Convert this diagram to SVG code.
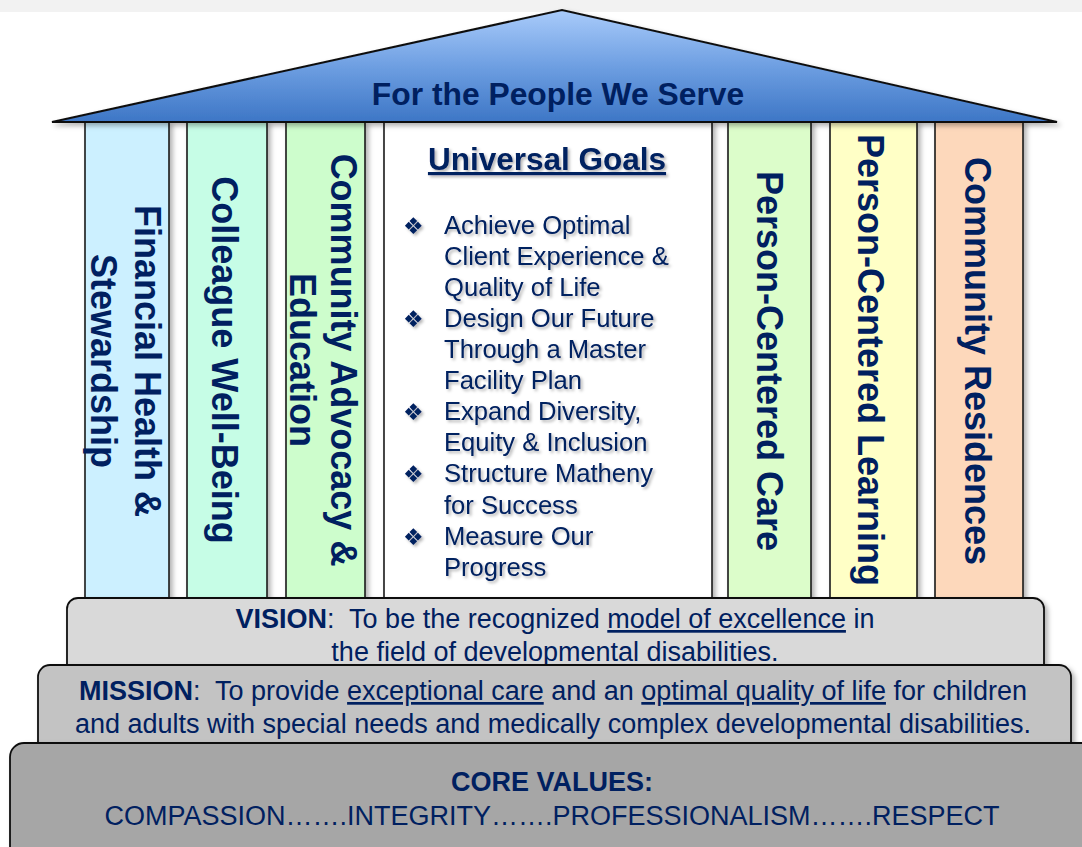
<svg xmlns="http://www.w3.org/2000/svg" width="1082" height="847" viewBox="0 0 1082 847">
<defs>
<linearGradient id="roofGrad" x1="0" y1="10" x2="0" y2="122" gradientUnits="userSpaceOnUse">
<stop offset="0" stop-color="#a9cbfa"/>
<stop offset="0.5" stop-color="#6e9fe2"/>
<stop offset="1" stop-color="#3d76c6"/>
</linearGradient>
<filter id="shadow" x="-10%" y="-10%" width="130%" height="130%">
<feDropShadow dx="3" dy="3" stdDeviation="2.5" flood-color="#000" flood-opacity="0.3"/>
</filter>
<filter id="textShadow" x="-5%" y="-20%" width="115%" height="150%">
<feDropShadow dx="2" dy="2" stdDeviation="1.5" flood-color="#000" flood-opacity="0.3"/>
</filter>
</defs>
<style>
.pillar { stroke: #1a1a1a; stroke-width: 1.6; filter: url(#shadow); }
.ptext { font-family: "Liberation Sans", Arial, sans-serif; font-weight: bold; font-size: 36px; fill: #002060; text-anchor: middle; }
.goal { font-family: "Liberation Sans", Arial, sans-serif; font-size: 25.6px; fill: #002060; }
.bullet { font-family: "DejaVu Sans", sans-serif; font-size: 23px; fill: #002060; }
.step { stroke: #111; stroke-width: 1.8; filter: url(#shadow); }
.stext { font-family: "Liberation Sans", Arial, sans-serif; font-size: 27px; fill: #002060; text-anchor: middle; white-space: pre; }
.b { font-weight: bold; }
.u { text-decoration: underline; }
</style>
<rect x="0" y="0" width="1082" height="12" fill="#f2f2f2"/>

<g id="pillar-financial">
<rect class="pillar" x="85" y="122" width="84" height="476" fill="#ccf0ff"/>
<text class="ptext" transform="translate(135,361) rotate(90)"><tspan x="0" y="0">Financial Health &amp;</tspan><tspan x="0" y="44">Stewardship</tspan></text>
</g>
<g id="pillar-colleague">
<rect class="pillar" x="187" y="122" width="80" height="476" fill="#c6fde6"/>
<text class="ptext" transform="translate(212,360) rotate(90)">Colleague Well-Being</text>
</g>
<g id="pillar-advocacy">
<rect class="pillar" x="286" y="122" width="79" height="476" fill="#cdfdcc"/>
<text class="ptext" transform="translate(331,360) rotate(90)"><tspan x="0" y="0">Community Advocacy &amp;</tspan><tspan x="0" y="41">Education</tspan></text>
</g>
<g id="universal-goals">
<rect class="pillar" x="384" y="122" width="328" height="476" fill="#ffffff"/>
<g filter="url(#textShadow)">
<text x="547" y="170" font-family="Liberation Sans, Arial, sans-serif" font-weight="bold" font-size="31.5" fill="#002060" text-anchor="middle" text-decoration="underline">Universal Goals</text>
<text class="bullet" x="403" y="234">❖</text>
<text class="bullet" x="403" y="327">❖</text>
<text class="bullet" x="403" y="420">❖</text>
<text class="bullet" x="403" y="482">❖</text>
<text class="bullet" x="403" y="545">❖</text>
<text class="goal" x="444" y="234">Achieve Optimal</text>
<text class="goal" x="444" y="265">Client Experience &amp;</text>
<text class="goal" x="444" y="296">Quality of Life</text>
<text class="goal" x="444" y="327">Design Our Future</text>
<text class="goal" x="444" y="358">Through a Master</text>
<text class="goal" x="444" y="389">Facility Plan</text>
<text class="goal" x="444" y="420">Expand Diversity,</text>
<text class="goal" x="444" y="451">Equity &amp; Inclusion</text>
<text class="goal" x="444" y="482">Structure Matheny</text>
<text class="goal" x="444" y="514">for Success</text>
<text class="goal" x="444" y="545">Measure Our</text>
<text class="goal" x="444" y="576">Progress</text>
</g>
</g>
<g id="pillar-care">
<rect class="pillar" x="728" y="122" width="83" height="476" fill="#dcfdca"/>
<text class="ptext" transform="translate(757,361) rotate(90)">Person-Centered Care</text>
</g>
<g id="pillar-learning">
<rect class="pillar" x="830" y="122" width="87" height="476" fill="#ffffc6"/>
<text class="ptext" transform="translate(858,360) rotate(90)">Person-Centered Learning</text>
</g>
<g id="pillar-residences">
<rect class="pillar" x="935" y="122" width="88" height="476" fill="#fdd8bb"/>
<text class="ptext" transform="translate(965,361) rotate(90)">Community Residences</text>
</g>

<g id="roof">
<polygon points="52,122 562,10 1057,122" fill="url(#roofGrad)" stroke="#111" stroke-width="2" stroke-linejoin="miter" filter="url(#shadow)"/>
<text x="558" y="105" font-family="Liberation Sans, Arial, sans-serif" font-weight="bold" font-size="31.8" fill="#002060" text-anchor="middle">For the People We Serve</text>
</g>

<g id="vision">
<rect class="step" x="67" y="598" width="977" height="90" rx="11" fill="#d9d9d9"/>
<text class="stext" x="555" y="628"><tspan class="b">VISION</tspan>:  To be the recognized <tspan class="u">model of excellence</tspan> in</text>
<text class="stext" x="555" y="661">the field of developmental disabilities.</text>
</g>
<g id="mission">
<rect class="step" x="38" y="665" width="1033" height="100" rx="12" fill="#c3c3c3"/>
<text class="stext" x="553" y="700"><tspan class="b">MISSION</tspan>:  To provide <tspan class="u">exceptional care</tspan> and an <tspan class="u">optimal quality of life</tspan> for children</text>
<text class="stext" x="553" y="733">and adults with special needs and medically complex developmental disabilities.</text>
</g>
<g id="core-values">
<rect class="step" x="10" y="743" width="1100" height="130" rx="14" fill="#a6a6a6"/>
<text class="stext b" x="552" y="791" font-size="28">CORE VALUES:</text>
<text class="stext" x="552" y="825">COMPASSION…….INTEGRITY…….PROFESSIONALISM…….RESPECT</text>
</g>
<g id="connectors"></g>
</svg>
